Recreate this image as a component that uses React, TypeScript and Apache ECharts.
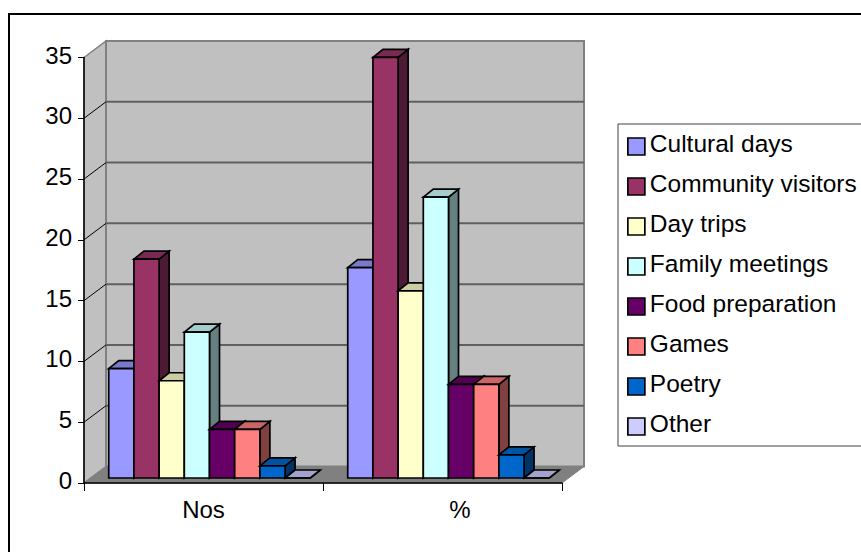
import React, { useEffect, useRef } from "react";
import * as echarts from "echarts";

const categories = ["Nos", "%"];
const yTicks = [0, 5, 10, 15, 20, 25, 30, 35];
const seriesNames = [
  "Cultural days",
  "Community visitors",
  "Day trips",
  "Family meetings",
  "Food preparation",
  "Games",
  "Poetry",
  "Other",
];
const culturalDays = [9, 17.3];
const communityVisitors = [18, 34.6];
const dayTrips = [8, 15.4];
const familyMeetings = [12, 23.1];
const foodPreparation = [4, 7.7];
const games = [4, 7.7];
const poetry = [1, 1.9];
const other = [0, 0];
const seriesValues = [culturalDays, communityVisitors, dayTrips, familyMeetings, foodPreparation, games, poetry, other];
const colors = ["#9999FF", "#993366", "#FFFFCC", "#CCFFFF", "#660066", "#FF8080", "#0066CC", "#CCCCFF"];

const FONT = "'Liberation Sans', Arial, sans-serif";
const WALL_DX = 22;
const WALL_DY = 16.5;
const BAR_SHIFT_X = 6;
const BAR_SHIFT_Y = 5;
const BAR_DX = 10;
const BAR_DY = 8;
const BAR_BAND_RATIO = 0.1054;

function shade(hex: string, f: number) {
  const n = parseInt(hex.slice(1), 16);
  const c = (s: number) => Math.round(((n >> s) & 255) * f);
  return `rgb(${c(16)},${c(8)},${c(0)})`;
}

function renderWalls(params: any, api: any) {
  const cs = params.coordSys;
  const l = cs.x;
  const r = cs.x + cs.width;
  const t = cs.y;
  const b = cs.y + cs.height;
  const children: any[] = [
    {
      type: "polygon",
      shape: { points: [[l, t], [l + WALL_DX, t - WALL_DY], [l + WALL_DX, b - WALL_DY], [l, b]] },
      style: { fill: "#C0C0C0", stroke: "#808080", lineWidth: 1.5 },
    },
    {
      type: "polygon",
      shape: { points: [[l + WALL_DX, t - WALL_DY], [r + WALL_DX, t - WALL_DY], [r + WALL_DX, b - WALL_DY], [l + WALL_DX, b - WALL_DY]] },
      style: { fill: "#C0C0C0", stroke: "#808080", lineWidth: 2 },
    },
  ];
  yTicks.forEach((tick) => {
    if (tick === 0 || tick === 35) return;
    const y = api.coord([0, tick])[1];
    children.push({
      type: "line",
      shape: { x1: l + WALL_DX, y1: y - WALL_DY, x2: r + WALL_DX, y2: y - WALL_DY },
      style: { stroke: "#606060", lineWidth: 2 },
    });
    children.push({
      type: "line",
      shape: { x1: l, y1: y, x2: l + WALL_DX, y2: y - WALL_DY },
      style: { stroke: "#000000", lineWidth: 1 },
    });
  });
  children.push({
    type: "polygon",
    shape: { points: [[l, b], [l + WALL_DX, b - WALL_DY], [r + WALL_DX, b - WALL_DY], [r, b]] },
    style: { fill: "#808080", stroke: "#808080", lineWidth: 1 },
  });
  return { type: "group", children };
}

function makeBarRenderer(index: number, color: string) {
  return (params: any, api: any) => {
    const cat = api.value(0);
    const val = api.value(1);
    const band = api.size([1, 0])[0];
    const w = band * BAR_BAND_RATIO;
    const center = api.coord([cat, 0])[0];
    const x0 = center + BAR_SHIFT_X + (index - 4) * w;
    const x1 = x0 + w;
    const y0 = api.coord([cat, 0])[1] - BAR_SHIFT_Y;
    const y1 = api.coord([cat, val])[1] - BAR_SHIFT_Y;
    const stroke = "#000000";
    const lineWidth = 1.7;
    return {
      type: "group",
      children: [
        {
          type: "polygon",
          shape: { points: [[x1, y1], [x1 + BAR_DX, y1 - BAR_DY], [x1 + BAR_DX, y0 - BAR_DY], [x1, y0]] },
          style: { fill: shade(color, 0.5), stroke, lineWidth },
        },
        {
          type: "polygon",
          shape: { points: [[x0, y1], [x0 + BAR_DX, y1 - BAR_DY], [x1 + BAR_DX, y1 - BAR_DY], [x1, y1]] },
          style: { fill: shade(color, 0.8), stroke, lineWidth },
        },
        {
          type: "polygon",
          shape: { points: [[x0, y0], [x0, y1], [x1, y1], [x1, y0]] },
          style: { fill: color, stroke, lineWidth },
        },
      ],
    };
  };
}

export default function App() {
  const ref = useRef<HTMLDivElement>(null);
  useEffect(() => {
    const chart = echarts.init(ref.current!, undefined, { renderer: "svg" });
    chart.setOption({
      animation: false,
      backgroundColor: "#FFFFFF",
      textStyle: { fontFamily: FONT },
      grid: { left: 84, right: 299, top: 57.5, bottom: 69, containLabel: false },
      xAxis: {
        type: "category",
        data: categories,
        z: 10,
        axisLine: { show: true, lineStyle: { color: "#000", width: 1.5 } },
        axisTick: { show: true, alignWithLabel: false, length: 8, lineStyle: { color: "#000", width: 1 } },
        axisLabel: {
          color: "#000",
          fontSize: 24,
          fontFamily: FONT,
          margin: 14,
          formatter: (v: string) => (v === "%" ? `{shifted|${v}}` : v),
          rich: { shifted: { color: "#000", fontSize: 24, fontFamily: FONT, padding: [0, 0, 0, 35] } },
        },
        splitLine: { show: false },
      },
      yAxis: {
        type: "value",
        min: 0,
        max: 35,
        interval: 5,
        z: 10,
        axisLine: { show: true, lineStyle: { color: "#000", width: 1.5 } },
        axisTick: { show: true, length: 6, lineStyle: { color: "#000", width: 1 } },
        axisLabel: {
          color: "#000",
          fontSize: 24,
          fontFamily: FONT,
          margin: 12,
          formatter: "{lifted|{value}}",
          rich: { lifted: { color: "#000", fontSize: 24, fontFamily: FONT, padding: [0, 0, 5, 0] } },
        },
        splitLine: { show: false },
      },
      legend: {
        show: true,
        orient: "vertical",
        left: 618,
        top: 124,
        padding: [7, 30, 4, 9],
        itemGap: 9,
        itemWidth: 17,
        itemHeight: 17,
        backgroundColor: "#FFFFFF",
        borderColor: "#404040",
        borderWidth: 1,
        selectedMode: false,
        formatter: (name: string) => `{t|${name}}`,
        textStyle: {
          color: "#000",
          fontSize: 24.5,
          fontFamily: FONT,
          rich: { t: { color: "#000", fontSize: 24.5, fontFamily: FONT, lineHeight: 24, padding: [0, 0, 6, 0] } },
        },
        data: seriesNames.map((name, i) => ({
          name,
          icon: "rect",
          itemStyle: { color: colors[i], borderColor: "#000", borderWidth: 1.7 },
        })),
      },
      graphic: [
        {
          type: "polyline",
          shape: { points: [[9, 552], [9, 14], [861, 14]] },
          style: { fill: "none", stroke: "#000", lineWidth: 2 },
          silent: true,
        },
      ],
      series: [
        {
          type: "custom",
          silent: true,
          renderItem: renderWalls,
          data: [[0, 0]],
          encode: { x: 0, y: 1 },
        },
        ...seriesNames.map((name, i) => ({
          type: "custom",
          name,
          silent: true,
          renderItem: makeBarRenderer(i, colors[i]),
          itemStyle: { color: colors[i] },
          data: seriesValues[i].map((v, c) => [c, v]),
          encode: { x: 0, y: 1 },
        })),
      ],
    });
    return () => chart.dispose();
  }, []);
  return <div ref={ref} style={{ position: "absolute", left: 0, top: 0, width: 861, height: 552 }} />;
}
